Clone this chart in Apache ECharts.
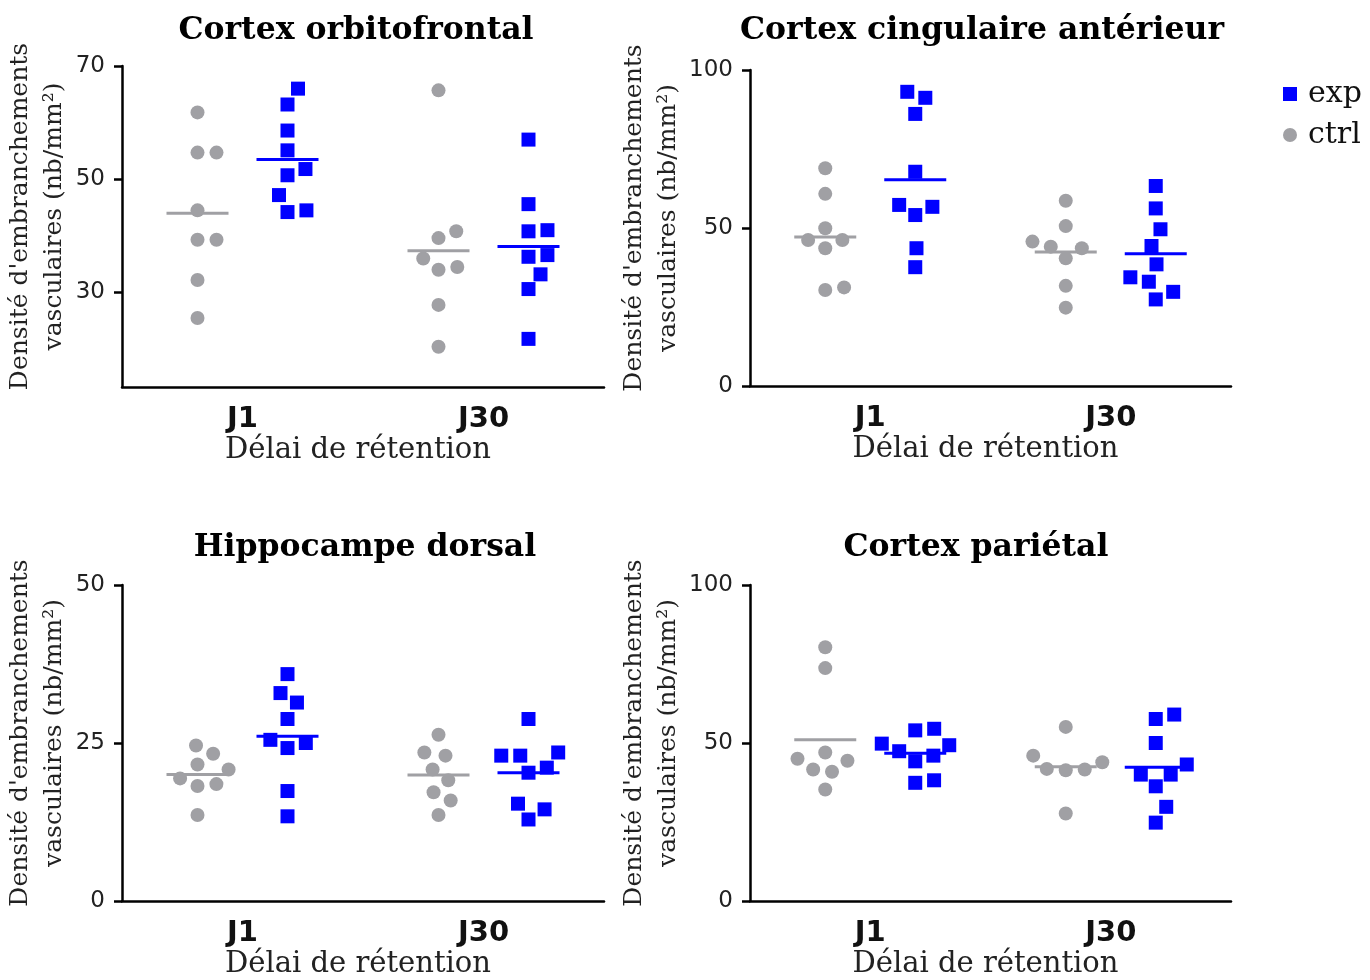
<!DOCTYPE html>
<html>
<head>
<meta charset="utf-8">
<script src="https://cdn.jsdelivr.net/npm/echarts@6/dist/echarts.min.js"></script>
<style>html,body{margin:0;padding:0;background:#fff}#c{width:1370px;height:980px}</style>
</head>
<body>
<div id="c"></div>
<script>
// ---- Data ----
const timepoints = ['J1', 'J30'];
const groups = ['ctrl', 'exp'];
const panelTitles = ['Cortex orbitofrontal', 'Cortex cingulaire antérieur', 'Hippocampe dorsal', 'Cortex pariétal'];
const xAxisTitle = 'Délai de rétention';
const yAxisTitle = "Densité d'embranchements\nvasculaires (nb/mm²)";

const yMin = [13.3, 0, 0, 0];
const yMax = [70, 100, 50, 100];
const yTicksOF = [30, 50, 70];
const yTicksCCA = [0, 50, 100];
const yTicksHD = [0, 25, 50];
const yTicksCP = [0, 50, 100];

// Cortex orbitofrontal
const ofCtrlJ1 = [61.8, 54.7, 54.7, 44.5, 39.3, 39.3, 32.2, 25.5];
const ofExpJ1 = [66.0, 63.2, 58.6, 55.1, 51.8, 50.7, 47.2, 44.2, 44.5];
const ofCtrlJ30 = [65.7, 40.8, 39.6, 36.0, 34.0, 34.5, 27.8, 20.4];
const ofExpJ30 = [57.0, 45.6, 41.0, 40.8, 36.3, 36.6, 33.2, 30.6, 21.8];
// Cortex cingulaire antérieur
const ccaCtrlJ1 = [68.9, 60.8, 49.9, 46.2, 46.2, 43.6, 30.4, 31.2];
const ccaExpJ1 = [93.1, 91.2, 86.1, 67.8, 56.7, 54.1, 57.3, 43.6, 37.6];
const ccaCtrlJ30 = [58.6, 50.6, 44.1, 45.7, 43.6, 40.4, 31.7, 24.8];
const ccaExpJ30 = [63.3, 56.2, 49.6, 44.3, 38.5, 34.4, 33.0, 29.8, 27.4];
// Hippocampe dorsal
const hdCtrlJ1 = [24.6, 23.3, 21.6, 20.8, 19.4, 18.5, 18.2, 13.6];
const hdExpJ1 = [35.9, 32.9, 31.4, 28.8, 25.5, 25.0, 24.2, 17.4, 13.4];
const hdCtrlJ30 = [26.3, 23.5, 23.0, 20.8, 19.1, 17.2, 15.9, 13.6];
const hdExpJ30 = [28.8, 23.5, 23.0, 23.0, 21.1, 20.3, 15.4, 14.5, 12.9];
// Cortex pariétal
const cpCtrlJ1 = [80.3, 73.7, 47.0, 45.0, 44.4, 41.6, 40.9, 35.3];
const cpExpJ1 = [54.5, 54.0, 49.3, 49.8, 47.4, 46.0, 44.2, 38.2, 37.4];
const cpCtrlJ30 = [55.1, 46.0, 43.9, 41.6, 41.4, 41.8, 27.7];
const cpExpJ30 = [59.0, 57.6, 50.0, 43.2, 40.0, 40.0, 36.3, 29.8, 24.8];

const panelData = [
  { ctrl: [ofCtrlJ1, ofCtrlJ30], exp: [ofExpJ1, ofExpJ30] },
  { ctrl: [ccaCtrlJ1, ccaCtrlJ30], exp: [ccaExpJ1, ccaExpJ30] },
  { ctrl: [hdCtrlJ1, hdCtrlJ30], exp: [hdExpJ1, hdExpJ30] },
  { ctrl: [cpCtrlJ1, cpCtrlJ30], exp: [cpExpJ1, cpExpJ30] }
];
const panelTicks = [yTicksOF, yTicksCCA, yTicksHD, yTicksCP];

// ---- Layout / style ----
const grids = [
  { left: 122, top: 66, width: 482, height: 321 },
  { left: 750, top: 70, width: 481, height: 316 },
  { left: 122, top: 585, width: 482, height: 317 },
  { left: 750, top: 585, width: 481, height: 317 }
];
const titlePos = [[356, 15], [982, 15], [365, 532], [976, 532]];
const yNameGap = [50, 57, 50, 59];
const colors = { ctrl: '#a0a0a4', exp: '#0000ff' };
const symbols = { ctrl: 'circle', exp: 'rect' };
const symbolSizes = { ctrl: 14, exp: 14 };
const groupOffsetPx = { ctrl: -45, exp: 45 };
const swarmDist = 19;
const meanHalfPx = 31;

function swarm(values, pxPerUnit, D) {
  const order = values.map((v, i) => i).sort((a, b) => values[a] - values[b]);
  const placed = [];
  const out = new Array(values.length);
  for (const i of order) {
    const y = values[i] * pxPerUnit;
    const cands = [0];
    for (const p of placed) {
      const dy = Math.abs(p.y - y);
      if (dy < D) { const h = Math.sqrt(D * D - dy * dy); cands.push(p.x + h, p.x - h); }
    }
    cands.sort((a, b) => Math.abs(a) - Math.abs(b) || b - a);
    let best = 0;
    for (const c of cands) {
      if (placed.every(p => Math.hypot(p.x - c, p.y - y) >= D - 1e-6)) { best = c; break; }
    }
    placed.push({ x: best, y: y });
    out[i] = best;
  }
  return out;
}

const mean = a => a.reduce((s, v) => s + v, 0) / a.length;

const option = {
  animation: false,
  backgroundColor: '#fff',
  title: panelTitles.map((t, i) => ({
    text: t, left: titlePos[i][0], top: titlePos[i][1], textAlign: 'center', padding: 0,
    textStyle: { fontFamily: 'DejaVu Serif', fontWeight: 'bold', fontSize: 31.5, color: '#000' }
  })),
  legend: {
    orient: 'vertical', left: 1278, top: 74, itemWidth: 14, itemHeight: 14, itemGap: 11,
    textStyle: { fontFamily: 'DejaVu Serif', fontSize: 30, color: '#111', padding: [0, 0, 0, 6] },
    data: [{ name: 'exp', icon: 'rect' }, { name: 'ctrl', icon: 'circle' }]
  },
  grid: grids.map(g => Object.assign({}, g, { containLabel: false })),
  xAxis: [],
  yAxis: [],
  series: []
};

grids.forEach((g, i) => {
  option.xAxis.push({
    type: 'category', gridIndex: i, data: timepoints, boundaryGap: true,
    name: xAxisTitle, nameLocation: 'middle', nameGap: 49,
    nameTextStyle: { fontFamily: 'DejaVu Serif', fontSize: 29, color: '#222', padding: [0, 10, 0, 0] },
    axisLine: { onZero: false, lineStyle: { color: '#000', width: 2.5 } },
    axisTick: { alignWithLabel: true, length: 8, lineStyle: { color: '#000', width: 2.5 } },
    axisLabel: { fontFamily: 'DejaVu Sans', fontWeight: 'bold', fontSize: 29, color: '#111', margin: 18 },
    splitLine: { show: false }
  });
  option.xAxis.push({ type: 'value', gridIndex: i, min: 0, max: 2, show: false });
  option.yAxis.push({
    type: 'value', gridIndex: i, min: yMin[i], max: yMax[i],
    name: yAxisTitle, nameLocation: 'middle', nameGap: yNameGap[i], nameRotate: 90,
    nameTextStyle: { fontFamily: 'DejaVu Serif', fontSize: 25, lineHeight: 34, color: '#222', padding: [0, 0, 0, 20] },
    axisLine: { show: true, onZero: false, lineStyle: { color: '#000', width: 2.5 } },
    axisTick: { show: true, length: 8, customValues: panelTicks[i], lineStyle: { color: '#000', width: 2.5 } },
    axisLabel: { fontFamily: 'DejaVu Sans', fontSize: 23, color: '#222', margin: 17, customValues: panelTicks[i] },
    splitLine: { show: false }
  });

  const pxPerUnitY = g.height / (yMax[i] - yMin[i]);
  const unitPerPxX = 2 / g.width;
  groups.forEach(gr => {
    const pts = [];
    timepoints.forEach((tp, t) => {
      const vals = panelData[i][gr][t];
      const offs = swarm(vals, pxPerUnitY, swarmDist);
      const cx = t + 0.5 + groupOffsetPx[gr] * unitPerPxX;
      vals.forEach((v, k) => pts.push([cx + offs[k] * unitPerPxX, v]));
      const m = mean(vals);
      option.series.push({
        type: 'line', name: gr + ' moyenne', xAxisIndex: 2 * i + 1, yAxisIndex: i,
        data: [[cx - meanHalfPx * unitPerPxX, m], [cx + meanHalfPx * unitPerPxX, m]],
        symbol: 'none', silent: true, z: 4,
        lineStyle: { color: colors[gr], width: 3 }
      });
    });
    option.series.push({
      type: 'scatter', name: gr, xAxisIndex: 2 * i + 1, yAxisIndex: i,
      data: pts, symbol: symbols[gr], symbolSize: symbolSizes[gr], z: 3,
      itemStyle: { color: colors[gr], opacity: 1 }
    });
  });
});

const chart = echarts.init(document.getElementById('c'), null, { renderer: 'canvas' });
chart.setOption(option);
</script>
</body>
</html>
